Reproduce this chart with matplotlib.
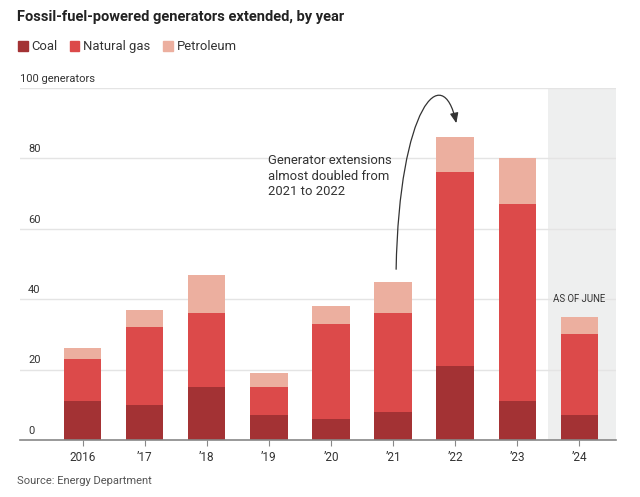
import numpy as np
import matplotlib.pyplot as plt
from matplotlib.patches import FancyArrowPatch, Rectangle
from matplotlib.path import Path

plt.rcParams['font.family'] = ['Roboto', 'DejaVu Sans']

years = ['2016', '\u201917', '\u201918', '\u201919', '\u201920', '\u201921', '\u201922', '\u201923', '\u201924']
coal = [11, 10, 15, 7, 6, 8, 21, 11, 7]
natural_gas = [12, 22, 21, 8, 27, 28, 55, 56, 23]
petroleum = [3, 5, 11, 4, 5, 9, 10, 13, 5]
y_ticks = [0, 20, 40, 60, 80, 100]

c_coal = '#a33234'
c_gas = '#dc4a4a'
c_pet = '#ecaf9f'

fig = plt.figure(figsize=(6.4, 4.97), dpi=100)
ax = fig.add_axes([0.03125, 0.1147, 0.931, 0.7083])

x = np.arange(len(years))
coal = np.array(coal)
gas = np.array(natural_gas)
pet = np.array(petroleum)

# partial-year shading
ax.axvspan(7.5, 8.6, color='#eeefef', zorder=0, lw=0)

for v in y_ticks[1:]:
    ax.axhline(v, color='#e4e4e4', lw=1, zorder=1)

w = 0.6
ax.bar(x, coal, w, color=c_coal, zorder=2)
ax.bar(x, gas, w, bottom=coal, color=c_gas, zorder=2)
ax.bar(x, pet, w, bottom=coal + gas, color=c_pet, zorder=2)

ax.set_xlim(-1.01, 8.59)
ax.set_ylim(0, 100)
for s in ['top', 'right', 'left']:
    ax.spines[s].set_visible(False)
ax.spines['bottom'].set_color('#888888')
ax.spines['bottom'].set_linewidth(1.2)
ax.set_yticks([])
ax.set_xticks(x)
ax.set_xticklabels(years, fontsize=8.5, color='#333333')
ax.tick_params(axis='x', length=4, color='#888888', pad=4)

for v in y_ticks:
    lab = '100 generators' if v == 100 else str(v)
    xpos = -1.01 if v == 100 else -0.88
    ax.text(xpos, v + 1.2, lab, fontsize=8, color='#333333', ha='left', va='bottom')

ax.text(2.98, 81.2, 'Generator extensions\nalmost doubled from\n2021 to 2022',
        fontsize=9.4, color='#333333', ha='left', va='top', linespacing=1.25)

path = Path([(5.05, 48.5), (5.1, 95), (5.8, 108), (6.02, 90)],
            [Path.MOVETO, Path.CURVE4, Path.CURVE4, Path.CURVE4])
arrow = FancyArrowPatch(path=path, arrowstyle='-|>,head_length=0.6,head_width=0.25',
                        mutation_scale=10, color='#333333', lw=0.9, zorder=3)
ax.add_patch(arrow)

ax.text(8, 38.5, 'AS OF JUNE', fontsize=6.9, color='#333333', ha='center', va='bottom')

fig.text(0.027, 0.966, 'Fossil-fuel-powered generators extended, by year',
         fontsize=10.5, fontweight='bold', color='#222222', ha='left', va='center')

legend_items = [('Coal', c_coal, 0.028), ('Natural gas', c_gas, 0.109), ('Petroleum', c_pet, 0.255)]
for name, col, lx in legend_items:
    fig.patches.append(Rectangle((lx, 0.897), 0.015, 0.02, transform=fig.transFigure,
                                 color=col, figure=fig))
    fig.text(lx + 0.021, 0.906, name, fontsize=9.4, color='#333333', ha='left', va='center')

fig.text(0.027, 0.032, 'Source: Energy Department', fontsize=8, color='#555555',
         ha='left', va='center')

fig.savefig('out.png', dpi=100)
